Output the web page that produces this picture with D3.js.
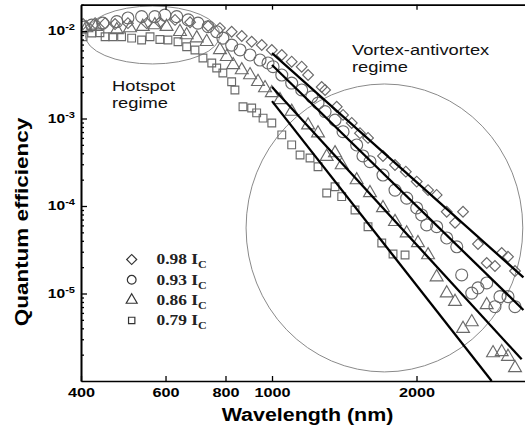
<!DOCTYPE html>
<html>
<head>
<meta charset="utf-8">
<script src="https://cdn.jsdelivr.net/npm/d3@7"></script>
<style>
  body { margin: 0; background: #fff; }
  svg { display: block; }
</style>
</head>
<body>
<svg id="chart" width="525" height="432"></svg>
<script>
// ---- data -------------------------------------------------------------
const wavelengthTicks = [400, 600, 800, 1000, 2000];
const efficiencyTicks = [1e-2, 1e-3, 1e-4, 1e-5];
const efficiencyExponents = ["-2", "-3", "-4", "-5"];

const seriesLabels = ["0.98 I", "0.93 I", "0.86 I", "0.79 I"];
const seriesSymbols = ["diamond", "circle", "triangle", "square"];

// bias 0.98 Ic
const wl98 = [404, 428, 449, 471, 501, 548, 584, 628, 675, 736, 779, 824, 865, 907, 952, 999,
  1048, 1099, 1153, 1189, 1269, 1290, 1364, 1406, 1466, 1525, 1585, 1703, 1804, 1900, 2002,
  2114, 2203, 2312, 2406, 2500, 2686, 2801, 2914, 3010, 3102, 3208];
const qe98 = [1.2e-2, 1.23e-2, 1.23e-2, 1.2e-2, 1.23e-2, 1.23e-2, 1.26e-2, 1.34e-2, 1.26e-2,
  1.14e-2, 1.08e-2, 9.8e-3, 8.77e-3, 7.54e-3, 6.92e-3, 6.07e-3, 5.32e-3, 4.46e-3, 3.91e-3,
  3.14e-3, 2.29e-3, 2.12e-3, 1.36e-3, 1.10e-3, 8.9e-4, 6.8e-4, 6.0e-4, 3.73e-4, 2.94e-4,
  2.47e-4, 1.9e-4, 1.52e-4, 1.34e-4, 8.6e-5, 6.44e-5, 8.6e-5, 3.68e-5, 2.23e-5, 2.06e-5,
  2.9e-5, 2.63e-5, 1.81e-5];

// bias 0.93 Ic
const wl93 = [406, 421, 444, 475, 501, 535, 570, 598, 633, 669, 701, 736, 767, 790, 824, 858,
  900, 944, 981, 1005, 1048, 1099, 1153, 1210, 1247, 1290, 1353, 1406, 1501, 1547, 1600, 1703,
  1804, 1908, 2002, 2050, 2100, 2203, 2312, 2426, 2484, 2607, 2686, 2801, 2914, 2985, 3102, 3208];
const qe93 = [1.11e-2, 1.17e-2, 1.23e-2, 1.28e-2, 1.41e-2, 1.46e-2, 1.46e-2, 1.52e-2, 1.46e-2,
  1.34e-2, 1.23e-2, 1.12e-2, 9.8e-3, 8.3e-3, 6.9e-3, 6.07e-3, 5.32e-3, 4.66e-3, 4.31e-3,
  3.91e-3, 3.14e-3, 2.54e-3, 2.12e-3, 1.77e-3, 1.5e-3, 1.2e-3, 9.6e-4, 7.07e-4, 4.98e-4,
  3.73e-4, 3.21e-4, 2.26e-4, 1.52e-4, 1.23e-4, 9.5e-5, 7.9e-5, 6.07e-5, 5.8e-5, 4.31e-5,
  3.42e-5, 1.63e-5, 1.01e-5, 1.16e-5, 1.32e-5, 7.07e-6, 9.2e-6, 9.2e-6, 7.07e-6];

// bias 0.86 Ic
const wl86 = [410, 430, 475, 506, 538, 570, 603, 643, 664, 697, 731, 779, 805, 830, 865, 900,
  935, 967, 999, 1039, 1099, 1189, 1247, 1300, 1353, 1397, 1501, 1600, 1703, 1804, 1908, 2014,
  2114, 2203, 2312, 2406, 2500, 2607, 2801, 2887, 3010, 3102, 3208];
const qe86 = [1.08e-2, 1.12e-2, 1.03e-2, 1.08e-2, 1.12e-2, 1.17e-2, 1.12e-2, 9.8e-3, 9.0e-3,
  8.3e-3, 7.54e-3, 6.07e-3, 5.08e-3, 4.09e-3, 3.58e-3, 3.14e-3, 2.63e-3, 2.23e-3, 1.96e-3,
  1.63e-3, 1.2e-3, 8.4e-4, 6.8e-4, 3.66e-4, 4.03e-4, 2.94e-4, 1.98e-4, 1.41e-4, 9.5e-5,
  6.6e-5, 4.9e-5, 3.78e-5, 2.75e-5, 1.54e-5, 1.01e-5, 8.06e-6, 3.96e-6, 4.72e-6, 7.4e-6,
  2.09e-6, 2.15e-6, 1.9e-6, 1.41e-6];

// bias 0.79 Ic
const wl79 = [404, 421, 438, 449, 466, 486, 510, 535, 557, 584, 607, 637, 664, 691, 718, 749,
  767, 790, 824, 837, 870, 907, 929, 958, 999, 1048, 1099, 1144, 1200, 1247, 1300, 1353, 1397,
  1489, 1585, 1693, 1787, 1893];
const qe79 = [8.6e-3, 9.5e-3, 9.56e-3, 8.6e-3, 8.6e-3, 8.6e-3, 8.3e-3, 7.9e-3, 8.6e-3, 8.0e-3,
  7.9e-3, 7.54e-3, 6.6e-3, 6.07e-3, 4.91e-3, 4.31e-3, 3.78e-3, 3.31e-3, 2.63e-3, 2.12e-3,
  1.36e-3, 1.32e-3, 1.16e-3, 1.01e-3, 8.9e-4, 6.5e-4, 5.0e-4, 3.83e-4, 3.54e-4, 2.81e-4,
  1.41e-4, 1.66e-4, 1.28e-4, 9.0e-5, 5.8e-5, 3.78e-5, 2.83e-5, 2.75e-5];

// power-law fits in the vortex-antivortex regime (end points)
const fitWavelength = [[1000, 3340], [1000, 3340], [1000, 3312], [1000, 2868]];
const fitEfficiency = [[5.6e-3, 1.53e-5], [4.09e-3, 6.48e-6], [2.29e-3, 1.77e-6], [1.58e-3, 1e-6]];

// regime outlines: wavelength span and efficiency span
const regimeWavelength = [[408, 779], [883, 3330]];
const regimeEfficiency = [[4.2e-3, 1.93e-2], [1.27e-6, 2.48e-3]];

const wavelengths = [wl98, wl93, wl86, wl79];
const efficiencies = [qe98, qe93, qe86, qe79];

// ---- layout -----------------------------------------------------------
const plotLeft = 81, plotBottom = 381;
const xDecade = 480, yDecade = 87.5;
const xDomain = [400, 3500], yDomain = [1e-6, 2e-2];
const plotTop = plotBottom - yDecade * Math.log10(yDomain[1] / yDomain[0]);
const plotRight = plotLeft + xDecade * Math.log10(xDomain[1] / xDomain[0]);

const x = d3.scaleLog().domain(xDomain).range([plotLeft, plotRight]);
const y = d3.scaleLog().domain(yDomain).range([plotBottom, plotTop]);

const sans = "'Liberation Sans', Arial, Helvetica, sans-serif";
const serif = "'Liberation Serif', 'Times New Roman', serif";
const widen = 1.22;          // the lettering is set wide

const svg = d3.select("#chart");

svg.append("defs").append("clipPath").attr("id", "plot")
  .append("rect").attr("x", plotLeft).attr("y", plotTop)
  .attr("width", plotRight - plotLeft).attr("height", plotBottom - plotTop);

// widen text horizontally around its own anchor
function stretch(sel, k) {
  sel.each(function () {
    const t = d3.select(this);
    const tx = +t.attr("x") || 0, ty = +t.attr("y") || 0;
    const prev = t.attr("transform") || "";
    t.attr("x", 0).attr("y", 0)
      .attr("transform", `${prev} translate(${tx},${ty}) scale(${k},1)`);
  });
}

// ---- regime outlines -------------------------------------------------
svg.append("g").attr("clip-path", "url(#plot)")
  .selectAll("ellipse")
  .data(d3.range(regimeWavelength.length))
  .join("ellipse")
  .attr("cx", i => (x(regimeWavelength[i][0]) + x(regimeWavelength[i][1])) / 2)
  .attr("cy", i => (y(regimeEfficiency[i][0]) + y(regimeEfficiency[i][1])) / 2)
  .attr("rx", i => (x(regimeWavelength[i][1]) - x(regimeWavelength[i][0])) / 2)
  .attr("ry", i => (y(regimeEfficiency[i][0]) - y(regimeEfficiency[i][1])) / 2)
  .attr("fill", "none")
  .attr("stroke", "#8a8a8a")
  .attr("stroke-width", 1);

// ---- markers ----------------------------------------------------------
const symbolType = {
  diamond: d3.symbolSquare, circle: d3.symbolCircle,
  triangle: d3.symbolTriangle, square: d3.symbolSquare
};
const symbolSize = { diamond: 58, circle: 112, triangle: 72, square: 60 };
const symbolRotate = { diamond: 45, circle: 0, triangle: 0, square: 0 };

const markers = svg.append("g").attr("clip-path", "url(#plot)");
seriesSymbols.forEach((s, i) => {
  const path = d3.symbol().type(symbolType[s]).size(symbolSize[s])();
  markers.append("g")
    .selectAll("path")
    .data(wavelengths[i].map((w, j) => [w, efficiencies[i][j]]))
    .join("path")
    .attr("d", path)
    .attr("transform", d => `translate(${x(d[0])},${y(d[1])}) rotate(${symbolRotate[s]})`)
    .attr("fill", "none")
    .attr("stroke", "#6a6a6a")
    .attr("stroke-width", 1.15);
});

// ---- fit lines ----------------------------------------------------------
const fitLine = d3.line().x(d => x(d[0])).y(d => y(d[1]));
svg.append("g").attr("clip-path", "url(#plot)")
  .selectAll("path")
  .data(fitWavelength.map((w, i) => w.map((v, j) => [v, fitEfficiency[i][j]])))
  .join("path")
  .attr("d", fitLine)
  .attr("fill", "none")
  .attr("stroke", "#000")
  .attr("stroke-width", 2.3);

// ---- axes -------------------------------------------------------------
const axisStyle = g => {
  g.select(".domain").attr("stroke", "#000").attr("stroke-width", 1.6);
  g.selectAll(".tick line").attr("stroke", "#000").attr("stroke-width", 1.3);
};

const xAxis = svg.append("g").attr("transform", `translate(0,${plotBottom})`)
  .call(d3.axisBottom(x).tickValues(wavelengthTicks).tickSize(-5).tickSizeOuter(0)
    .tickPadding(6.5).tickFormat(d3.format("d")))
  .call(axisStyle);
xAxis.selectAll(".tick text")
  .attr("font-family", sans).attr("font-size", "13px").attr("font-weight", "bold")
  .attr("fill", "#000").call(stretch, 1.25);

svg.append("g").attr("transform", `translate(0,${plotTop})`)
  .call(d3.axisTop(x).tickValues(wavelengthTicks.slice(1)).tickSize(-5).tickSizeOuter(0)
    .tickFormat(""))
  .call(axisStyle);

const minorTicks = [];
for (let e = -6; e <= -2; e++) {
  for (let m = 2; m <= 9; m++) {
    const v = m * Math.pow(10, e);
    if (v <= yDomain[1] * 1.0001) minorTicks.push(v);
  }
}
svg.append("g").attr("transform", `translate(${plotLeft},0)`)
  .call(d3.axisLeft(y).tickValues(minorTicks).tickSize(-3).tickSizeOuter(0).tickFormat(""))
  .call(axisStyle);

const yAxis = svg.append("g").attr("transform", `translate(${plotLeft},0)`)
  .call(d3.axisLeft(y).tickValues(efficiencyTicks).tickSize(-6).tickSizeOuter(0).tickPadding(6))
  .call(axisStyle);
yAxis.selectAll(".tick text").each(function (d, i) {
  const t = d3.select(this);
  t.text(null)
    .attr("font-family", sans).attr("font-size", "12px").attr("font-weight", "bold")
    .attr("fill", "#000");
  t.append("tspan").text("10");
  t.append("tspan").attr("dy", "-0.6em").attr("font-size", "8.5px")
    .text(efficiencyExponents[i]);
});
yAxis.selectAll(".tick text").call(stretch, 1.3);

// axis titles
svg.append("text")
  .attr("x", 307.5).attr("y", 421)
  .attr("text-anchor", "middle")
  .attr("font-family", sans).attr("font-size", "18px").attr("font-weight", "bold")
  .text("Wavelength (nm)")
  .call(stretch, 1.19);

svg.append("text")
  .attr("text-anchor", "middle")
  .attr("transform", `translate(28,222) rotate(-90)`)
  .attr("font-family", sans).attr("font-size", "18px").attr("font-weight", "bold")
  .text("Quantum efficiency")
  .call(stretch, 1.25);

// ---- regime labels --------------------------------------------------------
const notes = [
  { x: 112, y: 91, text: "Hotspot" },
  { x: 112, y: 108, text: "regime" },
  { x: 352, y: 55, text: "Vortex-antivortex" },
  { x: 352, y: 72, text: "regime" }
];
svg.append("g").selectAll("text").data(notes).join("text")
  .attr("x", d => d.x).attr("y", d => d.y)
  .attr("font-family", sans).attr("font-size", "15px").attr("fill", "#111")
  .text(d => d.text)
  .call(stretch, widen);

// ---- legend -------------------------------------------------------------
const legend = svg.append("g");
const legendSize = { diamond: 50, circle: 60, triangle: 52, square: 40 };
seriesSymbols.forEach((s, i) => {
  const cy = 259.5 + i * 20.3;
  legend.append("path")
    .attr("d", d3.symbol().type(symbolType[s]).size(legendSize[s])())
    .attr("transform", `translate(131.7,${cy}) rotate(${symbolRotate[s]})`)
    .attr("fill", "none").attr("stroke", "#333").attr("stroke-width", 1.2);
  const t = legend.append("text")
    .attr("x", 156.5).attr("y", cy + 4.8)
    .attr("font-family", serif).attr("font-size", "14.5px").attr("font-weight", "bold")
    .attr("fill", "#222");
  t.append("tspan").text(seriesLabels[i]);
  t.append("tspan").attr("dy", 4).attr("font-size", "10px").text("C");
  t.call(stretch, 1.2);
});
</script>
</body>
</html>
